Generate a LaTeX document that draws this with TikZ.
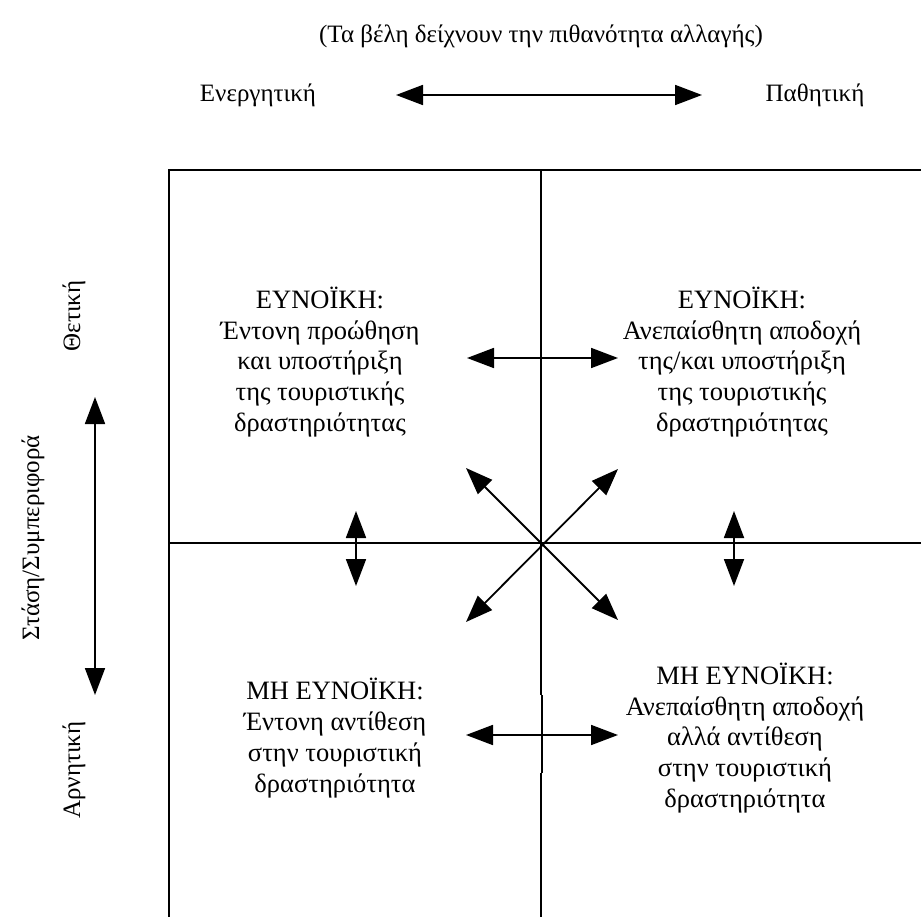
\documentclass[tikz,border=0pt]{standalone}
\usepackage{fontspec}
\setmainfont{Liberation Serif}
\usetikzlibrary{arrows.meta}
\begin{document}
\begin{tikzpicture}[x=1pt,y=-1pt,
  lbl/.style={font=\fontsize{25}{31}\selectfont, inner sep=0pt, align=center},
  quad/.style={font=\fontsize{26.5}{30.8}\selectfont, inner sep=0pt, align=center},
  frame/.style={line width=2.8pt},
  dbl/.style={line width=1.8pt, {Triangle[length=27pt,width=20pt]}-{Triangle[length=27pt,width=20pt]}}]
\useasboundingbox (0,0) rectangle (921,917);
% frame coordinates
\coordinate (tl) at (169,170);
\coordinate (tr) at (921,170);
\coordinate (bl) at (169,917);
\coordinate (ml) at (169,543);
\coordinate (mr) at (921,543);
\coordinate (mt) at (541,170);
\coordinate (c) at (541,543);
\coordinate (mb1) at (541,695);
\coordinate (mb2) at (542,695);
\coordinate (mb3) at (542,773);
\coordinate (mb4) at (541,773);
\coordinate (mb) at (541,917);
\draw[frame] (bl) -- (tl) -- (tr);
\draw[frame] (ml) -- (mr);
\draw[frame] (mt) -- (mb1);
\draw[frame] (mb2) -- (mb3);
\draw[frame] (mb4) -- (mb);
% texts
\node[lbl] (title) at (541,36) {(Τα βέλη δείχνουν την πιθανότητα αλλαγής)};
\node[lbl] (act) at (258,95) {Ενεργητική};
\node[lbl] (pas) at (815,95) {Παθητική};
\node[lbl, rotate=90] (pos) at (74,316) {Θετική};
\node[lbl, rotate=90] (att) at (33,538) {Στάση/Συμπεριφορά};
\node[lbl, rotate=90] (neg) at (74,770) {Αρνητική};
\node[quad] (q1) at (320,362) {ΕΥΝΟΪΚΗ:\\Έντονη προώθηση\\και υποστήριξη\\της τουριστικής\\δραστηριότητας};
\node[quad] (q2) at (742,362) {ΕΥΝΟΪΚΗ:\\Ανεπαίσθητη αποδοχή\\της/και υποστήριξη\\της τουριστικής\\δραστηριότητας};
\node[quad] (q3) at (335,738) {ΜΗ ΕΥΝΟΪΚΗ:\\Έντονη αντίθεση\\στην τουριστική\\δραστηριότητα};
\node[quad] (q4) at (745,738) {ΜΗ ΕΥΝΟΪΚΗ:\\Ανεπαίσθητη αποδοχή\\αλλά αντίθεση\\στην τουριστική\\δραστηριότητα};
% arrow ends
\coordinate (ha1) at (396,95);
\coordinate (ha2) at (702,95);
\coordinate (va1) at (95,397);
\coordinate (va2) at (95,695);
\coordinate (u1) at (467,358);
\coordinate (u2) at (618,358);
\coordinate (l1) at (466,735);
\coordinate (l2) at (618,735);
\coordinate (lv1) at (356,511);
\coordinate (lv2) at (356,586);
\coordinate (rv1) at (734,511);
\coordinate (rv2) at (734,586);
\coordinate (d1) at (466,468);
\coordinate (d2) at (618,620);
\coordinate (d3) at (618,469);
\coordinate (d4) at (466,622);
\draw[dbl] (ha1) -- (ha2);
\draw[dbl] (va1) -- (va2);
\draw[dbl] (u1) -- (u2);
\draw[dbl] (l1) -- (l2);
\draw[dbl] (lv1) -- (lv2);
\draw[dbl] (rv1) -- (rv2);
\draw[dbl] (d1) -- (d2);
\draw[dbl] (d3) -- (d4);
\end{tikzpicture}
\end{document}
